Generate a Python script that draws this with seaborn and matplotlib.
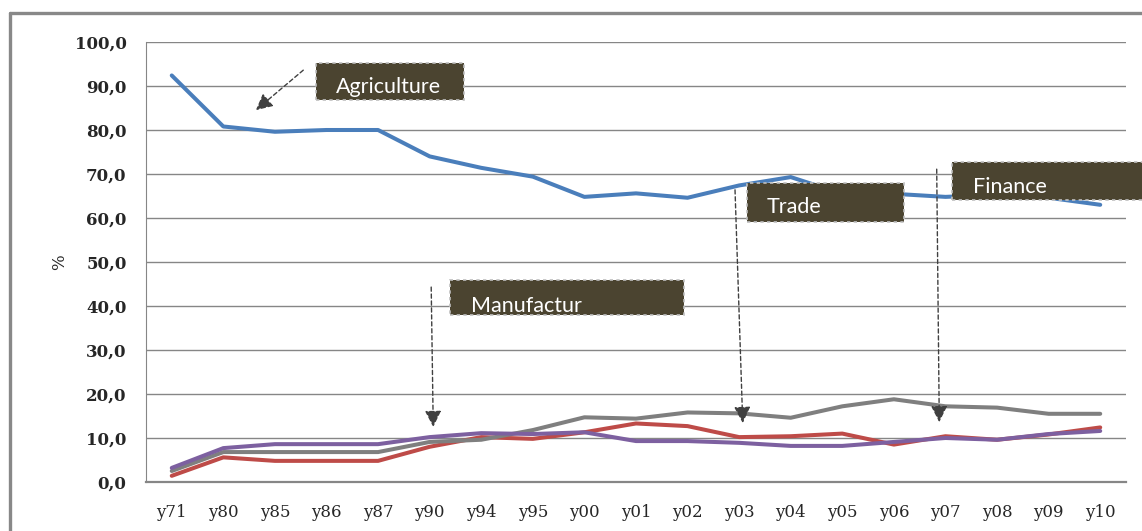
import matplotlib
matplotlib.use("Agg")
import matplotlib.pyplot as plt
from matplotlib.patches import Rectangle
from matplotlib.lines import Line2D
import seaborn as sns
import pandas as pd

years = ['y71', 'y80', 'y85', 'y86', 'y87', 'y90', 'y94', 'y95', 'y00', 'y01',
         'y02', 'y03', 'y04', 'y05', 'y06', 'y07', 'y08', 'y09', 'y10']
agriculture = [92.4, 80.8, 79.6, 80.0, 80.0, 74.0, 71.4, 69.4, 64.8, 65.6,
               64.6, 67.4, 69.3, 65.5, 65.5, 64.8, 65.3, 64.6, 63.0]
manufacturing = [1.4, 5.6, 4.8, 4.8, 4.8, 8.0, 10.2, 9.8, 11.3, 13.3,
                 12.7, 10.2, 10.4, 11.0, 8.5, 10.4, 9.6, 10.8, 12.4]
trade = [2.5, 6.8, 6.8, 6.8, 6.8, 9.1, 9.6, 11.8, 14.7, 14.4,
         15.8, 15.6, 14.6, 17.2, 18.8, 17.2, 16.9, 15.5, 15.5]
finance = [3.2, 7.7, 8.6, 8.6, 8.6, 10.2, 11.1, 10.9, 11.3, 9.3,
           9.3, 8.9, 8.2, 8.2, 9.1, 10.0, 9.6, 10.9, 11.6]
sectors = ['Agriculture', 'Manufacturing', 'Trade', 'Finance']
colors = ['#4a7ebb', '#be4b48', '#7f7f7f', '#7d60a0']
yticks = [0, 10, 20, 30, 40, 50, 60, 70, 80, 90, 100]

df = pd.DataFrame({'year': years * 4,
                   'sector': [s for s in sectors for _ in years],
                   'value': agriculture + manufacturing + trade + finance})

sns.set_style('white')
fig = plt.figure(figsize=(11.42, 5.31), dpi=100)
ax = fig.add_axes([0.1278, 0.0923, 0.986 - 0.1278, 0.9209 - 0.0923])

sns.lineplot(data=df, x='year', y='value', hue='sector', palette=colors,
             linewidth=2.9, sort=False, legend=False, ax=ax, zorder=3)

ax.set_xlim(-0.5, len(years) - 0.5)
ax.set_ylim(0, 100)
ax.set_yticks(yticks)
ax.set_yticklabels([f'{v},0' for v in yticks], fontfamily='DejaVu Serif',
                   fontweight='bold', fontsize=12)
ax.set_xticks(range(len(years)))
ax.set_xticklabels(years, fontfamily='DejaVu Serif', fontsize=12)
ax.tick_params(length=0, pad=14)
ax.tick_params(axis='x', pad=16)
ax.grid(axis='y', color='#868686', linewidth=1)
ax.set_axisbelow(True)
for s in ['top', 'right']:
    ax.spines[s].set_visible(False)
for s in ['left', 'bottom']:
    ax.spines[s].set_color('#868686')
ax.spines['bottom'].set_linewidth(1.6)
ax.set_xlabel('')
ax.set_ylabel('%', fontfamily='DejaVu Serif', fontsize=12, labelpad=5)

# annotation boxes (category index, %): label, x0, y0, width, height, text dx, baseline dy
boxes = [
    ('Agriculture', 2.79, 86.8, 2.88, 8.4, 0.40, 1.6),
    ('Manufactur', 5.40, 38.0, 4.53, 7.9, 0.41, 0.6),
    ('Trade', 11.15, 59.1, 3.04, 8.9, 0.38, 2.0),
    ('Finance', 15.13, 64.1, 4.2, 8.6, 0.41, 1.6),
]
for label, x0, y0, w, h, tx, ty in boxes:
    r = Rectangle((x0, y0), w, h, facecolor='#4b4430', edgecolor='#bfbfbf',
                  linestyle=(0, (2, 2)), linewidth=1.2, zorder=5, clip_on=False)
    ax.add_patch(r)
    ax.text(x0 + tx, y0 + ty, label, color='white', fontfamily='Lato',
            fontsize=15.5, va='baseline', ha='left', zorder=6, clip_on=False)

arrows = [
    ((2.55, 93.6), (1.63, 84.5)),
    ((5.03, 44.3), (5.07, 12.5)),
    ((10.92, 66.4), (11.07, 13.4)),
    ((14.83, 71.1), (14.88, 13.6)),
]
for start, end in arrows:
    ax.annotate('', xy=end, xytext=start, zorder=4,
                arrowprops=dict(arrowstyle='-|>,head_length=1.0,head_width=0.5',
                                color='#404040', linestyle=(0, (3, 2)),
                                linewidth=1.0, shrinkA=0, shrinkB=0))

# outer chart frame
fig.add_artist(Line2D([10 / 1142, 10 / 1142], [0, 1 - 13 / 531],
                      color='#888888', linewidth=2.4, transform=fig.transFigure))
fig.add_artist(Line2D([10 / 1142, 1], [1 - 13 / 531, 1 - 13 / 531],
                      color='#888888', linewidth=2.4, transform=fig.transFigure))

fig.savefig('out.png', dpi=100)
